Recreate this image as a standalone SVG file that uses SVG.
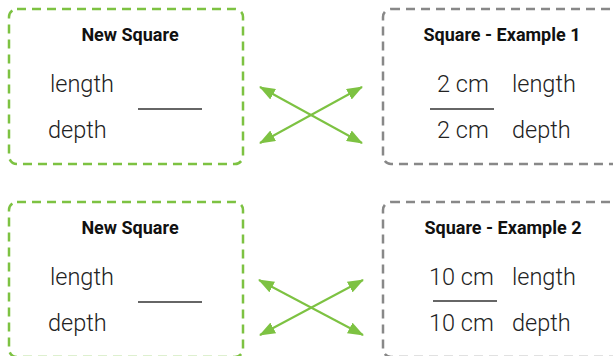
<svg xmlns="http://www.w3.org/2000/svg" width="613" height="356" viewBox="0 0 613 356">
<style>
.g{fill:none;stroke:#7dc242;stroke-width:2.5;stroke-dasharray:9 6}
.k{fill:none;stroke:#888;stroke-width:2.5;stroke-dasharray:9 6}
.t{font-family:Roboto,"Liberation Sans",sans-serif;font-weight:700;font-size:18px;fill:#111;text-anchor:middle}
.b{font-family:Roboto,"Liberation Sans",sans-serif;font-weight:300;font-size:23.5px;fill:#222}
.f{stroke:#333;stroke-width:1.4}
.a{stroke:#7dc242;stroke-width:2;fill:none}
</style>
<defs>
<marker id="ah" markerUnits="userSpaceOnUse" markerWidth="16" markerHeight="12" refX="15" refY="6" orient="auto-start-reverse" viewBox="0 0 16 12">
<path d="M0,0 L16,6 L0,12 Z" fill="#7dc242"/>
</marker>
</defs>
<rect width="613" height="356" fill="#fff"/>
<g id="new1">
<rect class="g" x="9" y="9" width="234" height="155" rx="8"/>
<text class="t" x="130" y="41">New Square</text>
<text class="b" x="50" y="92">length</text>
<text class="b" x="48" y="138">depth</text>
<line class="f" x1="138" y1="109" x2="202" y2="109"/>
</g>
<g id="ex1">
<rect class="k" x="383" y="9" width="250" height="155" rx="8"/>
<text class="t" x="502" y="41">Square - Example 1</text>
<text class="b" x="437" y="92">2 cm</text>
<text class="b" x="512" y="92">length</text>
<line class="f" x1="430" y1="109" x2="494" y2="109"/>
<text class="b" x="437" y="138">2 cm</text>
<text class="b" x="512" y="138">depth</text>
</g>
<g id="new2">
<rect class="g" x="9" y="202" width="234" height="155" rx="8"/>
<text class="t" x="130" y="234">New Square</text>
<text class="b" x="50" y="285">length</text>
<text class="b" x="48" y="331">depth</text>
<line class="f" x1="138" y1="302" x2="202" y2="302"/>
</g>
<g id="ex2">
<rect class="k" x="383" y="202" width="250" height="155" rx="8"/>
<text class="t" x="503" y="234">Square - Example 2</text>
<text class="b" x="429" y="285">10 cm</text>
<text class="b" x="512" y="285">length</text>
<line class="f" x1="433" y1="301" x2="497" y2="301"/>
<text class="b" x="429" y="331">10 cm</text>
<text class="b" x="512" y="331">depth</text>
</g>
<g id="connectors">
<line class="a" x1="260" y1="87" x2="362" y2="143" marker-start="url(#ah)" marker-end="url(#ah)"/>
<line class="a" x1="260" y1="143" x2="362" y2="87" marker-start="url(#ah)" marker-end="url(#ah)"/>
<line class="a" x1="259" y1="280" x2="363" y2="335" marker-start="url(#ah)" marker-end="url(#ah)"/>
<line class="a" x1="260" y1="335" x2="363" y2="280" marker-start="url(#ah)" marker-end="url(#ah)"/>
</g>
</svg>
